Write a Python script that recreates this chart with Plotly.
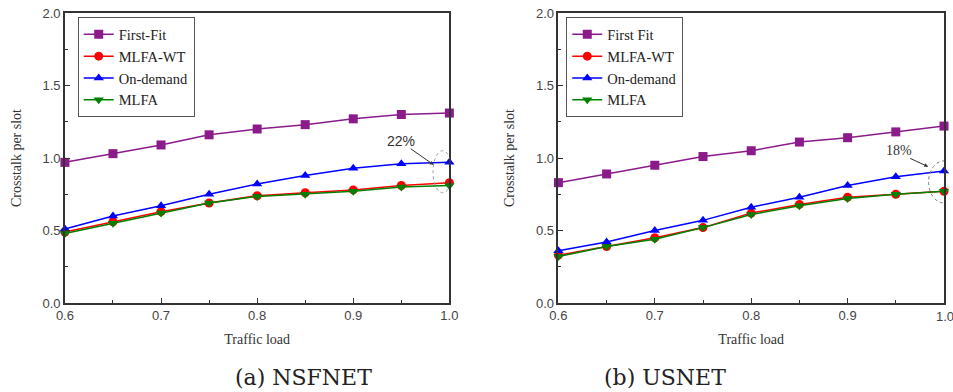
import plotly.graph_objects as go

loads = [0.6, 0.65, 0.7, 0.75, 0.8, 0.85, 0.9, 0.95, 1.0]

# (a) NSFNET
nsf_first_fit = [0.97, 1.03, 1.09, 1.16, 1.20, 1.23, 1.27, 1.30, 1.31]
nsf_mlfa_wt   = [0.49, 0.56, 0.63, 0.69, 0.74, 0.76, 0.78, 0.81, 0.83]
nsf_on_demand = [0.51, 0.60, 0.67, 0.75, 0.82, 0.88, 0.93, 0.96, 0.97]
nsf_mlfa      = [0.48, 0.55, 0.62, 0.69, 0.735, 0.75, 0.77, 0.80, 0.81]

# (b) USNET
us_first_fit = [0.83, 0.89, 0.95, 1.01, 1.05, 1.11, 1.14, 1.18, 1.22]
us_mlfa_wt   = [0.33, 0.39, 0.45, 0.52, 0.62, 0.68, 0.73, 0.75, 0.77]
us_on_demand = [0.36, 0.42, 0.50, 0.57, 0.66, 0.73, 0.81, 0.87, 0.91]
us_mlfa      = [0.32, 0.39, 0.44, 0.52, 0.61, 0.67, 0.72, 0.75, 0.77]

left_names = ["First-Fit", "MLFA-WT", "On-demand", "MLFA"]
right_names = ["First Fit", "MLFA-WT", "On-demand", "MLFA"]
colors = ["#8B1A8B", "#FF0000", "#0000FF", "#008000"]
symbols = ["square", "circle", "triangle-up", "triangle-down"]

fig = go.Figure()

left_series = [nsf_first_fit, nsf_mlfa_wt, nsf_on_demand, nsf_mlfa]
right_series = [us_first_fit, us_mlfa_wt, us_on_demand, us_mlfa]

for name, ys, c, s in zip(left_names, left_series, colors, symbols):
    fig.add_trace(go.Scatter(x=loads, y=ys, name=name, mode="lines+markers",
                             line=dict(color=c, width=1.5),
                             marker=dict(symbol=s, size=9, color=c),
                             xaxis="x", yaxis="y", legend="legend", cliponaxis=False))
for name, ys, c, s in zip(right_names, right_series, colors, symbols):
    fig.add_trace(go.Scatter(x=loads, y=ys, name=name, mode="lines+markers",
                             line=dict(color=c, width=1.5),
                             marker=dict(symbol=s, size=9, color=c),
                             xaxis="x2", yaxis="y2", legend="legend2", cliponaxis=False))

serif = "Liberation Serif, Times New Roman, serif"
sans = "Liberation Sans, Arial, sans-serif"

def xax(domain, anchor):
    return dict(domain=domain, anchor=anchor, range=[0.6, 1.0], dtick=0.1, tick0=0.6,
                tickformat=".1f", ticks="inside", ticklen=5, tickwidth=1, tickcolor="#333",
                minor=dict(ticks="inside", ticklen=3, dtick=0.05, tickcolor="#333"),
                showline=True, linecolor="#333", linewidth=1.5, mirror=True,
                showgrid=False, zeroline=False,
                tickfont=dict(family=sans, size=13, color="#444"),
                title=dict(text="Traffic load", font=dict(family=serif, size=14, color="#333"),
                           standoff=12))

def yax(anchor):
    return dict(anchor=anchor, range=[0, 2.0], dtick=0.5, tickformat=".1f",
                ticks="inside", ticklen=5, tickwidth=1, tickcolor="#333",
                minor=dict(ticks="inside", ticklen=3, dtick=0.25, tickcolor="#333"),
                showline=True, linecolor="#333", linewidth=1.5, mirror=True,
                showgrid=False, zeroline=False,
                tickfont=dict(family=sans, size=13, color="#444"),
                title=dict(text="Crosstalk per slot", font=dict(family=serif, size=14, color="#333"),
                           standoff=18))

legend_style = dict(font=dict(family=serif, size=14.5, color="#222"),
                    bordercolor="#555", borderwidth=1, bgcolor="white",
                    xanchor="left", yanchor="top", tracegroupgap=0, itemwidth=30)

fig.update_layout(
    width=953, height=392,
    margin=dict(l=0, r=0, t=13, b=89),
    paper_bgcolor="white", plot_bgcolor="white",
    xaxis=xax([0.0598, 0.471], "y"),
    yaxis=yax("x"),
    xaxis2=xax([0.5876, 1.0], "y2"),
    yaxis2=yax("x2"),
    legend=dict(x=0.0735, y=0.985, **legend_style),
    legend2=dict(x=0.596, y=0.985, **legend_style),
    showlegend=True,
)

# Annotations
fig.add_annotation(x=0.9837, y=0.953, ax=0.9582, ay=1.071, xref="x", yref="y",
                   axref="x", ayref="y", text="", showarrow=True, arrowhead=2,
                   arrowsize=0.8, arrowwidth=1, arrowcolor="#333")
fig.add_annotation(x=0.95, y=1.12, xref="x", yref="y", text="22%", showarrow=False,
                   font=dict(family=sans, size=14, color="#333"))
fig.add_shape(type="circle", xref="x", yref="y", x0=0.983, x1=1.003, y0=0.76, y1=1.05,
              line=dict(color="#999", width=1, dash="dot"))

fig.add_annotation(x=0.9837, y=0.94, ax=0.9634, ay=1.002, xref="x2", yref="y2",
                   axref="x2", ayref="y2", text="", showarrow=True, arrowhead=2,
                   arrowsize=0.8, arrowwidth=1, arrowcolor="#333")
fig.add_annotation(x=0.953, y=1.05, xref="x2", yref="y2", text="18%", showarrow=False,
                   font=dict(family=serif, size=14, color="#333"))
fig.add_shape(type="circle", xref="x2", yref="y2", x0=0.984, x1=1.016, y0=0.69, y1=0.98,
              line=dict(color="#777", width=1, dash="dot"))

# Last x tick label of the right panel (cut by the page edge)
fig.add_annotation(x=1.0, y=0, xref="x2", yref="y2", text="1.0", showarrow=False,
                   xanchor="left", xshift=-10, yanchor="top", yshift=-4,
                   font=dict(family=sans, size=13, color="#444"))

# Captions
fig.add_annotation(x=228 / 953, y=-(377 - 303) / 290, xref="paper", yref="paper",
                   text="(a) NSFNET", showarrow=False, yanchor="middle",
                   font=dict(family="DejaVu Serif, serif", size=22, color="#222"))
fig.add_annotation(x=733 / 953, y=-(377 - 303) / 290, xref="paper", yref="paper",
                   text="(b) USNET", showarrow=False, yanchor="middle",
                   font=dict(family="DejaVu Serif, serif", size=22, color="#222"))

fig.write_html("out.html")
